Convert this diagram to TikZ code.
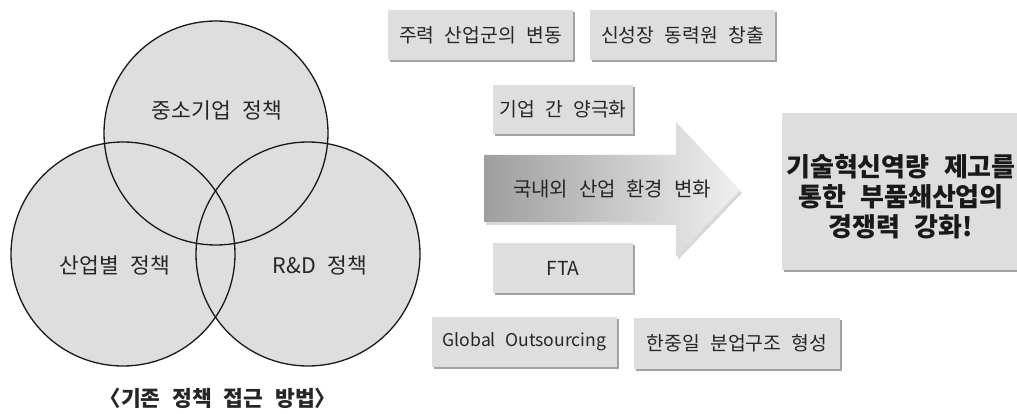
\documentclass[tikz,border=0pt]{standalone}
\usepackage{fontspec}
\setmainfont{Noto Sans CJK KR}[WordSpace=2.4]
\usetikzlibrary{shadows}
\definecolor{boxfill}{HTML}{DEDEDE}
\definecolor{shadowgray}{HTML}{A2A2A2}
\begin{document}
\begin{tikzpicture}[x=1pt,y=-1pt,
  boxstyle/.style={fill=boxfill, inner sep=0pt, text=black!85,
    drop shadow={shadow xshift=2pt, shadow yshift=-2pt, fill=shadowgray, opacity=1},
    font=\fontsize{19.3}{23}\selectfont},
  venn/.style={draw=black!90, line width=1.3pt},
  vennlabel/.style={font=\fontsize{21.5}{25}\selectfont, text=black!85}]
\useasboundingbox (0,0) rectangle (1017,414);
% Venn circles
\fill[boxfill] (216,133) circle (112);
\fill[boxfill] (123,254) circle (112);
\fill[boxfill] (308,254) circle (112);
\draw[venn] (216,133) circle (112);
\draw[venn] (123,254) circle (112);
\draw[venn] (308,254) circle (112);
\node[vennlabel] (c1) at (217,110) {중소기업 정책};
\node[vennlabel] (c2) at (115,265) {산업별 정책};
\node[vennlabel] (c3) at (320,265) {R\&D 정책};
\node[font=\bfseries\fontsize{21.5}{25}\selectfont, text=black!85] (cap) at (218,398) {〈기존 정책 접근 방법〉};
% Boxes
\node[boxstyle, minimum width=185pt, minimum height=50pt] (b1) at (480.5,35) {주력 산업군의 변동};
\node[boxstyle, minimum width=185pt, minimum height=50pt] (b2) at (682.5,35) {신성장 동력원 창출};
\node[boxstyle, minimum width=140pt, minimum height=49pt] (b3) at (563,109.5) {기업 간 양극화};
\node[boxstyle, minimum width=140pt, minimum height=50pt] (b4) at (563,268) {FTA};
\node[boxstyle, minimum width=185pt, minimum height=50pt, font=\fontsize{17.6}{21}\selectfont] (b5) at (524.5,342) {Global Outsourcing};
\node[boxstyle, minimum width=206pt, minimum height=51pt] (b6) at (737,343) {한중일 분업구조 형성};
% Arrow
\path[left color=black!38, right color=black!6,
  drop shadow={shadow xshift=2pt, shadow yshift=-3pt, fill=black!30, opacity=0.5}]
  (484,155) -- (676,155) -- (676,122) -- (740,190) -- (676,257) -- (676,222) -- (484,222) -- cycle;
\node[font=\fontsize{20}{24}\selectfont, text=black!85] (arr) at (612,189) {국내외 산업 환경 변화};
% Goal box
\node[boxstyle, minimum width=238pt, minimum height=157pt] (goal) at (901,191.5) {};
\node[align=center, inner sep=0pt, font=\bfseries\fontsize{26}{30}\selectfont, text=black!90] (goaltext) at (901,196.5)
  {기술혁신역량 제고를\\통한 부품쇄산업의\\경쟁력 강화!};
\end{tikzpicture}
\end{document}
